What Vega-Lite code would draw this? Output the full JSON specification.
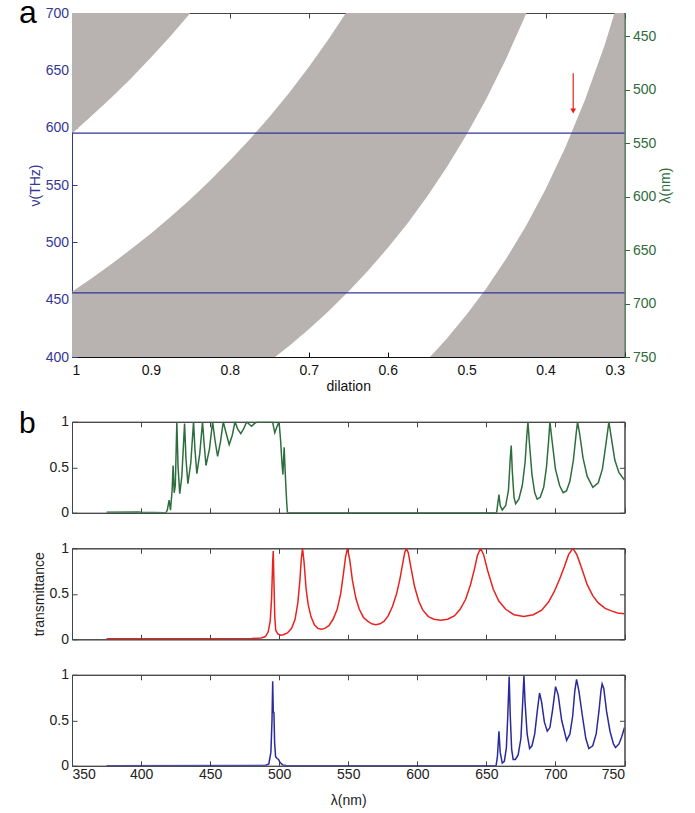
{
  "$schema": "https://vega.github.io/schema/vega-lite/v6.json",
  "padding": {"left": 18, "top": -4, "right": 0, "bottom": 0},
  "config": {
    "font": "Liberation Sans",
    "view": {"stroke": "#444", "strokeWidth": 1},
    "axis": {"labelFontSize": 14, "titleFontSize": 14, "titleFontWeight": "normal", "grid": false, "tickSize": -5, "labelPadding": 8.5, "labelColor": "#222", "titleColor": "#222", "domainColor": "#444", "tickColor": "#444", "labelFont": "Liberation Sans", "titleFont": "Liberation Sans"}
  },
  "datasets": {
    "bands": [
      {"d": 0.300, "a_hi": 728.3, "b_lo": 990.0, "b_hi": 1523.3, "c_lo": 1983.3},
      {"d": 0.325, "a_hi": 672.3, "b_lo": 913.8, "b_hi": 1406.2, "c_lo": 1830.8},
      {"d": 0.350, "a_hi": 624.3, "b_lo": 848.6, "b_hi": 1305.7, "c_lo": 1700.0},
      {"d": 0.375, "a_hi": 582.7, "b_lo": 792.0, "b_hi": 1218.7, "c_lo": 1586.7},
      {"d": 0.400, "a_hi": 546.3, "b_lo": 742.5, "b_hi": 1142.5, "c_lo": 1487.5},
      {"d": 0.425, "a_hi": 514.1, "b_lo": 698.8, "b_hi": 1075.3, "c_lo": 1400.0},
      {"d": 0.450, "a_hi": 485.6, "b_lo": 660.0, "b_hi": 1015.6, "c_lo": 1322.2},
      {"d": 0.475, "a_hi": 460.0, "b_lo": 625.3, "b_hi": 962.1, "c_lo": 1252.6},
      {"d": 0.500, "a_hi": 437.0, "b_lo": 594.0, "b_hi": 914.0, "c_lo": 1190.0},
      {"d": 0.525, "a_hi": 416.2, "b_lo": 565.7, "b_hi": 870.5, "c_lo": 1133.3},
      {"d": 0.550, "a_hi": 397.3, "b_lo": 540.0, "b_hi": 830.9, "c_lo": 1081.8},
      {"d": 0.575, "a_hi": 380.0, "b_lo": 516.5, "b_hi": 794.8, "c_lo": 1034.8},
      {"d": 0.600, "a_hi": 364.2, "b_lo": 495.0, "b_hi": 761.7, "c_lo": 991.7},
      {"d": 0.625, "a_hi": 349.6, "b_lo": 475.2, "b_hi": 731.2, "c_lo": 952.0},
      {"d": 0.650, "a_hi": 336.2, "b_lo": 456.9, "b_hi": 703.1, "c_lo": 915.4},
      {"d": 0.675, "a_hi": 323.7, "b_lo": 440.0, "b_hi": 677.0, "c_lo": 881.5},
      {"d": 0.700, "a_hi": 312.1, "b_lo": 424.3, "b_hi": 652.9, "c_lo": 850.0},
      {"d": 0.725, "a_hi": 301.4, "b_lo": 409.7, "b_hi": 630.3, "c_lo": 820.7},
      {"d": 0.750, "a_hi": 291.3, "b_lo": 396.0, "b_hi": 609.3, "c_lo": 793.3},
      {"d": 0.775, "a_hi": 281.9, "b_lo": 383.2, "b_hi": 589.7, "c_lo": 767.7},
      {"d": 0.800, "a_hi": 273.1, "b_lo": 371.3, "b_hi": 571.3, "c_lo": 743.8},
      {"d": 0.825, "a_hi": 264.8, "b_lo": 360.0, "b_hi": 553.9, "c_lo": 721.2},
      {"d": 0.850, "a_hi": 257.1, "b_lo": 349.4, "b_hi": 537.6, "c_lo": 700.0},
      {"d": 0.875, "a_hi": 249.7, "b_lo": 339.4, "b_hi": 522.3, "c_lo": 680.0},
      {"d": 0.900, "a_hi": 242.8, "b_lo": 330.0, "b_hi": 507.8, "c_lo": 661.1},
      {"d": 0.925, "a_hi": 236.2, "b_lo": 321.1, "b_hi": 494.1, "c_lo": 643.2},
      {"d": 0.950, "a_hi": 230.0, "b_lo": 312.6, "b_hi": 481.1, "c_lo": 626.3},
      {"d": 0.975, "a_hi": 224.1, "b_lo": 304.6, "b_hi": 468.7, "c_lo": 610.3},
      {"d": 1.000, "a_hi": 218.5, "b_lo": 297.0, "b_hi": 457.0, "c_lo": 595.0}
    ],
    "lines": [{"nu": 595.3}, {"nu": 456.0}],
    "arrow": [{"d": 0.365, "nu_top": 647.5, "nu_tip": 614.5}],
    "lamrange": [{"d": 1.0, "lam": 428.3}, {"d": 0.3, "lam": 750}],
    "green": [
      {"wl": 375, "T": 0.005}, {"wl": 398, "T": 0.01}, {"wl": 400, "T": 0.005}, {"wl": 418, "T": 0.0},
      {"wl": 419, "T": 0.03}, {"wl": 420.3, "T": 0.14}, {"wl": 421.3, "T": 0.03}, {"wl": 422.5, "T": 0.25},
      {"wl": 423.2, "T": 0.52}, {"wl": 424, "T": 0.22}, {"wl": 424.8, "T": 0.3}, {"wl": 425.9, "T": 1.0},
      {"wl": 426.8, "T": 0.5}, {"wl": 428, "T": 0.21}, {"wl": 429.5, "T": 0.4}, {"wl": 431.5, "T": 0.98},
      {"wl": 432.5, "T": 0.6}, {"wl": 433.9, "T": 0.32}, {"wl": 436, "T": 0.55}, {"wl": 438, "T": 1.0},
      {"wl": 439, "T": 0.7}, {"wl": 440.4, "T": 0.43}, {"wl": 442.5, "T": 0.65}, {"wl": 444.5, "T": 1.0},
      {"wl": 445.7, "T": 0.75}, {"wl": 447, "T": 0.52}, {"wl": 449.5, "T": 0.7}, {"wl": 451.8, "T": 1.0},
      {"wl": 453.5, "T": 0.8}, {"wl": 455.4, "T": 0.62}, {"wl": 457.5, "T": 0.78}, {"wl": 459.5, "T": 1.0},
      {"wl": 461.5, "T": 0.88}, {"wl": 463.8, "T": 0.75}, {"wl": 466, "T": 0.85}, {"wl": 468, "T": 1.0},
      {"wl": 470, "T": 0.92}, {"wl": 472.2, "T": 0.87}, {"wl": 474.5, "T": 0.93}, {"wl": 476.5, "T": 1.0},
      {"wl": 478.5, "T": 0.97}, {"wl": 480, "T": 0.95}, {"wl": 482, "T": 0.98}, {"wl": 484, "T": 1.0},
      {"wl": 490, "T": 1.0}, {"wl": 495.2, "T": 1.0}, {"wl": 496.8, "T": 0.88}, {"wl": 498.5, "T": 0.95},
      {"wl": 499.9, "T": 1.0}, {"wl": 501, "T": 0.8}, {"wl": 502, "T": 0.55}, {"wl": 502.7, "T": 0.42},
      {"wl": 503.6, "T": 0.72}, {"wl": 504.2, "T": 0.5}, {"wl": 504.8, "T": 0.3}, {"wl": 505.5, "T": 0.1},
      {"wl": 506, "T": 0.0}, {"wl": 520, "T": 0.0}, {"wl": 650, "T": 0.0}, {"wl": 657.4, "T": 0.0},
      {"wl": 659.1, "T": 0.2}, {"wl": 660, "T": 0.08}, {"wl": 661.5, "T": 0.03}, {"wl": 664, "T": 0.08},
      {"wl": 666, "T": 0.25}, {"wl": 667.3, "T": 0.6}, {"wl": 668, "T": 0.74}, {"wl": 668.8, "T": 0.45},
      {"wl": 670, "T": 0.17}, {"wl": 671.2, "T": 0.1}, {"wl": 673.5, "T": 0.15}, {"wl": 676, "T": 0.3},
      {"wl": 678, "T": 0.55}, {"wl": 679.3, "T": 0.85}, {"wl": 680.1, "T": 1.0}, {"wl": 681, "T": 0.8},
      {"wl": 683, "T": 0.42}, {"wl": 685, "T": 0.22}, {"wl": 686.8, "T": 0.15}, {"wl": 689, "T": 0.17},
      {"wl": 691.5, "T": 0.28}, {"wl": 693.5, "T": 0.5}, {"wl": 695, "T": 0.78}, {"wl": 696, "T": 1.0},
      {"wl": 697.5, "T": 0.8}, {"wl": 700, "T": 0.48}, {"wl": 703, "T": 0.3}, {"wl": 705.6, "T": 0.22},
      {"wl": 708, "T": 0.24}, {"wl": 710.5, "T": 0.35}, {"wl": 713, "T": 0.58}, {"wl": 715, "T": 0.87},
      {"wl": 716, "T": 1.0}, {"wl": 717.5, "T": 0.87}, {"wl": 720, "T": 0.6}, {"wl": 723, "T": 0.4},
      {"wl": 727.1, "T": 0.28}, {"wl": 731, "T": 0.33}, {"wl": 734, "T": 0.48}, {"wl": 736.5, "T": 0.75},
      {"wl": 738.7, "T": 1.0}, {"wl": 740.5, "T": 0.82}, {"wl": 743, "T": 0.58}, {"wl": 746, "T": 0.44},
      {"wl": 750, "T": 0.36}
    ],
    "red": [
      {"wl": 375, "T": 0.005}, {"wl": 450, "T": 0.005}, {"wl": 480, "T": 0.008}, {"wl": 487, "T": 0.015},
      {"wl": 490, "T": 0.03}, {"wl": 492, "T": 0.08}, {"wl": 493.5, "T": 0.2}, {"wl": 494.5, "T": 0.45},
      {"wl": 495.3, "T": 0.85}, {"wl": 495.7, "T": 0.97}, {"wl": 496.1, "T": 0.7}, {"wl": 496.8, "T": 0.25},
      {"wl": 497.5, "T": 0.1}, {"wl": 499, "T": 0.06}, {"wl": 501, "T": 0.045}, {"wl": 503, "T": 0.05},
      {"wl": 506, "T": 0.07}, {"wl": 509, "T": 0.12}, {"wl": 511.5, "T": 0.22}, {"wl": 513.5, "T": 0.4},
      {"wl": 515, "T": 0.65}, {"wl": 516, "T": 0.88}, {"wl": 516.9, "T": 1.0}, {"wl": 518, "T": 0.85},
      {"wl": 519.5, "T": 0.55}, {"wl": 521, "T": 0.38}, {"wl": 523, "T": 0.25}, {"wl": 525.5, "T": 0.16},
      {"wl": 528, "T": 0.12}, {"wl": 530.5, "T": 0.11}, {"wl": 533, "T": 0.12}, {"wl": 536, "T": 0.15},
      {"wl": 539, "T": 0.22}, {"wl": 542, "T": 0.33}, {"wl": 544.5, "T": 0.5}, {"wl": 546.5, "T": 0.72},
      {"wl": 548, "T": 0.9}, {"wl": 549.4, "T": 1.0}, {"wl": 551, "T": 0.88}, {"wl": 553, "T": 0.65},
      {"wl": 555.5, "T": 0.45}, {"wl": 558, "T": 0.33}, {"wl": 561, "T": 0.24}, {"wl": 564, "T": 0.2},
      {"wl": 567, "T": 0.17}, {"wl": 570, "T": 0.16}, {"wl": 573, "T": 0.17}, {"wl": 576, "T": 0.2},
      {"wl": 579, "T": 0.26}, {"wl": 582, "T": 0.36}, {"wl": 585, "T": 0.5}, {"wl": 587.5, "T": 0.67},
      {"wl": 589.5, "T": 0.84}, {"wl": 591, "T": 0.96}, {"wl": 592.1, "T": 1.0}, {"wl": 593.5, "T": 0.95},
      {"wl": 595.5, "T": 0.78}, {"wl": 598, "T": 0.58}, {"wl": 601, "T": 0.42}, {"wl": 604, "T": 0.32},
      {"wl": 608, "T": 0.25}, {"wl": 612, "T": 0.22}, {"wl": 617, "T": 0.21}, {"wl": 622, "T": 0.22},
      {"wl": 627, "T": 0.26}, {"wl": 631, "T": 0.33}, {"wl": 635, "T": 0.44}, {"wl": 638.5, "T": 0.6},
      {"wl": 641.5, "T": 0.78}, {"wl": 643.5, "T": 0.92}, {"wl": 645.8, "T": 1.0}, {"wl": 648, "T": 0.93},
      {"wl": 651, "T": 0.75}, {"wl": 655, "T": 0.55}, {"wl": 659, "T": 0.42}, {"wl": 664, "T": 0.33},
      {"wl": 670, "T": 0.27}, {"wl": 677, "T": 0.25}, {"wl": 684, "T": 0.27}, {"wl": 690, "T": 0.32},
      {"wl": 695, "T": 0.41}, {"wl": 699, "T": 0.52}, {"wl": 703, "T": 0.66}, {"wl": 706.5, "T": 0.8},
      {"wl": 709.5, "T": 0.93}, {"wl": 712.6, "T": 1.0}, {"wl": 715.5, "T": 0.93}, {"wl": 719, "T": 0.78},
      {"wl": 723, "T": 0.6}, {"wl": 727, "T": 0.48}, {"wl": 731, "T": 0.4}, {"wl": 736, "T": 0.34},
      {"wl": 741, "T": 0.31}, {"wl": 745, "T": 0.29}, {"wl": 750, "T": 0.28}
    ],
    "blue": [
      {"wl": 375, "T": 0.0}, {"wl": 490, "T": 0.003}, {"wl": 492.5, "T": 0.02}, {"wl": 494, "T": 0.15},
      {"wl": 494.8, "T": 0.5}, {"wl": 495.3, "T": 0.93}, {"wl": 495.7, "T": 0.6}, {"wl": 496.2, "T": 0.58},
      {"wl": 496.7, "T": 0.25}, {"wl": 497.4, "T": 0.1}, {"wl": 498.5, "T": 0.08}, {"wl": 499.5, "T": 0.07},
      {"wl": 500.5, "T": 0.04}, {"wl": 502.4, "T": 0.01}, {"wl": 505, "T": 0.003}, {"wl": 600, "T": 0.0},
      {"wl": 657, "T": 0.0}, {"wl": 658, "T": 0.1}, {"wl": 659.1, "T": 0.38}, {"wl": 660, "T": 0.15},
      {"wl": 661.5, "T": 0.03}, {"wl": 663, "T": 0.05}, {"wl": 664.5, "T": 0.2}, {"wl": 665.5, "T": 0.55},
      {"wl": 666.5, "T": 0.98}, {"wl": 667.3, "T": 0.55}, {"wl": 668.3, "T": 0.18}, {"wl": 669.4, "T": 0.07},
      {"wl": 671, "T": 0.07}, {"wl": 673, "T": 0.12}, {"wl": 675, "T": 0.3}, {"wl": 676.3, "T": 0.7},
      {"wl": 677.2, "T": 0.99}, {"wl": 678, "T": 0.7}, {"wl": 679.5, "T": 0.35}, {"wl": 681.3, "T": 0.19},
      {"wl": 683, "T": 0.22}, {"wl": 685, "T": 0.35}, {"wl": 687, "T": 0.62}, {"wl": 688.5, "T": 0.8},
      {"wl": 690, "T": 0.7}, {"wl": 692, "T": 0.48}, {"wl": 694.1, "T": 0.38}, {"wl": 696, "T": 0.42},
      {"wl": 698, "T": 0.62}, {"wl": 700.1, "T": 0.87}, {"wl": 702, "T": 0.78}, {"wl": 704.5, "T": 0.5},
      {"wl": 708.1, "T": 0.28}, {"wl": 710.5, "T": 0.35}, {"wl": 712.5, "T": 0.55}, {"wl": 714, "T": 0.82},
      {"wl": 715.3, "T": 0.95}, {"wl": 717, "T": 0.82}, {"wl": 719.5, "T": 0.55}, {"wl": 722, "T": 0.3},
      {"wl": 724.2, "T": 0.19}, {"wl": 727, "T": 0.22}, {"wl": 729.5, "T": 0.35}, {"wl": 731.5, "T": 0.6},
      {"wl": 733, "T": 0.83}, {"wl": 733.8, "T": 0.9}, {"wl": 735, "T": 0.85}, {"wl": 737, "T": 0.6},
      {"wl": 739.5, "T": 0.38}, {"wl": 742, "T": 0.24}, {"wl": 743.5, "T": 0.2}, {"wl": 746, "T": 0.24},
      {"wl": 748, "T": 0.32}, {"wl": 750, "T": 0.42}
    ]
  },
  "spacing": 64.8,
  "bounds": "flush",
  "vconcat": [
    {
      "width": 552.5,
      "height": 344,
      "title": {"text": "a", "orient": "top", "anchor": "start", "frame": "group", "fontSize": 32, "fontWeight": "normal", "color": "#000", "dx": -53, "dy": 24.3, "offset": 0},
      "layer": [
        {
          "layer": [
            {
              "data": {"name": "bands"},
              "mark": {"type": "area", "color": "#b8b2b0", "clip": true},
              "encoding": {
                "x": {"field": "d", "type": "quantitative", "scale": {"domain": [0.3, 1], "reverse": true, "nice": false, "zero": false},
                  "axis": {"orient": "bottom", "values": [1, 0.9, 0.8, 0.7, 0.6, 0.5, 0.4, 0.3], "format": "~g", "title": "dilation", "labelColor": "#111", "titleColor": "#111", "domainColor": "#111", "tickColor": "#111", "labelPadding": 11, "titlePadding": 2}},
                "y": {"field": "c_lo", "type": "quantitative", "scale": {"domain": [400, 700], "nice": false, "zero": false},
                  "axis": {"orient": "left", "values": [400, 450, 500, 550, 600, 650, 700], "title": "ν(THz)", "labelColor": "#363696", "titleColor": "#363696", "domainColor": "#363696", "tickColor": "#363696", "labelPadding": 8.5, "titlePadding": 3}},
                "y2": {"datum": 700}
              }
            },
            {
              "data": {"name": "bands"},
              "mark": {"type": "area", "color": "#b8b2b0", "clip": true},
              "encoding": {
                "x": {"field": "d", "type": "quantitative"},
                "y": {"field": "b_lo", "type": "quantitative"},
                "y2": {"field": "b_hi"}
              }
            },
            {
              "data": {"name": "bands"},
              "mark": {"type": "area", "color": "#b8b2b0", "clip": true},
              "encoding": {
                "x": {"field": "d", "type": "quantitative"},
                "y": {"field": "a_hi", "type": "quantitative"},
                "y2": {"datum": 400}
              }
            },
            {
              "data": {"name": "lines"},
              "mark": {"type": "rule", "color": "#33339a", "strokeWidth": 1.3},
              "encoding": {"y": {"field": "nu", "type": "quantitative"}}
            },
            {
              "data": {"name": "arrow"},
              "mark": {"type": "rule", "color": "#e3211c", "strokeWidth": 1.2},
              "encoding": {
                "x": {"field": "d", "type": "quantitative"},
                "y": {"field": "nu_top", "type": "quantitative"},
                "y2": {"field": "nu_tip"}
              }
            },
            {
              "data": {"name": "arrow"},
              "mark": {"type": "point", "shape": "triangle-down", "filled": true, "color": "#e3211c", "size": 34, "opacity": 1},
              "encoding": {
                "x": {"field": "d", "type": "quantitative"},
                "y": {"field": "nu_tip", "type": "quantitative"}
              }
            }
          ]
        },
        {
          "data": {"name": "lamrange"},
          "mark": {"type": "point", "opacity": 0},
          "encoding": {
            "x": {"field": "d", "type": "quantitative", "axis": {"orient": "top", "labels": false, "title": null, "values": [1, 0.9, 0.8, 0.7, 0.6, 0.5, 0.4, 0.3], "domainColor": "#444"}},
            "y": {"field": "lam", "type": "quantitative", "scale": {"domain": [428.3, 750], "reverse": true, "nice": false, "zero": false},
              "axis": {"orient": "right", "values": [450, 500, 550, 600, 650, 700, 750], "title": "λ(nm)", "titleAngle": 270, "titleBaseline": "top", "tickSize": 5, "labelPadding": 3, "titlePadding": 3, "labelColor": "#2f6b3c", "titleColor": "#2f6b3c", "domainColor": "#2f6b3c", "tickColor": "#2f6b3c"}}
          }
        }
      ],
      "resolve": {"scale": {"y": "independent"}, "axis": {"x": "independent"}}
    },
    {
      "spacing": 35.5,
      "bounds": "flush",
      "vconcat": [
        {
          "width": 552.5,
          "height": 91,
          "title": {"text": "b", "orient": "top", "anchor": "start", "frame": "group", "fontSize": 30, "fontWeight": "normal", "color": "#000", "dx": -53, "dy": 24.5, "offset": 0},
          "data": {"name": "green"},
          "layer": [
            {
              "mark": {"type": "line", "color": "#2e6e3e", "strokeWidth": 1.5, "clip": true},
              "encoding": {
                "x": {"field": "wl", "type": "quantitative", "scale": {"domain": [350, 750], "nice": false}, "axis": {"orient": "bottom", "values": [350, 400, 450, 500, 550, 600, 650, 700, 750], "labels": false, "title": null}},
                "y": {"field": "T", "type": "quantitative", "scale": {"domain": [0, 1], "nice": false}, "axis": {"orient": "left", "values": [0, 0.5, 1], "format": "~g", "title": null}}
              }
            },
            {
              "mark": {"type": "line", "strokeOpacity": 0},
              "encoding": {
                "x": {"field": "wl", "type": "quantitative", "axis": {"orient": "top", "values": [350, 400, 450, 500, 550, 600, 650, 700, 750], "labels": false, "title": null}},
                "y": {"field": "T", "type": "quantitative", "axis": {"orient": "right", "values": [0, 0.5, 1], "labels": false, "title": null}}
              }
            }
          ],
          "resolve": {"axis": {"x": "independent", "y": "independent"}}
        },
        {
          "width": 552.5,
          "height": 91,
          "data": {"name": "red"},
          "layer": [
            {
              "mark": {"type": "line", "color": "#e8231f", "strokeWidth": 1.5, "clip": true},
              "encoding": {
                "x": {"field": "wl", "type": "quantitative", "scale": {"domain": [350, 750], "nice": false}, "axis": {"orient": "bottom", "values": [350, 400, 450, 500, 550, 600, 650, 700, 750], "labels": false, "title": null}},
                "y": {"field": "T", "type": "quantitative", "scale": {"domain": [0, 1], "nice": false}, "axis": {"orient": "left", "values": [0, 0.5, 1], "format": "~g", "title": "transmittance", "titlePadding": 3}}
              }
            },
            {
              "mark": {"type": "line", "strokeOpacity": 0},
              "encoding": {
                "x": {"field": "wl", "type": "quantitative", "axis": {"orient": "top", "values": [350, 400, 450, 500, 550, 600, 650, 700, 750], "labels": false, "title": null}},
                "y": {"field": "T", "type": "quantitative", "axis": {"orient": "right", "values": [0, 0.5, 1], "labels": false, "title": null}}
              }
            }
          ],
          "resolve": {"axis": {"x": "independent", "y": "independent"}}
        },
        {
          "width": 552.5,
          "height": 91,
          "data": {"name": "blue"},
          "layer": [
            {
              "mark": {"type": "line", "color": "#2a2a9c", "strokeWidth": 1.5, "clip": true},
              "encoding": {
                "x": {"field": "wl", "type": "quantitative", "scale": {"domain": [350, 750], "nice": false}, "axis": {"orient": "bottom", "values": [350, 400, 450, 500, 550, 600, 650, 700, 750], "title": "λ(nm)", "labelPadding": 7, "titlePadding": 12}},
                "y": {"field": "T", "type": "quantitative", "scale": {"domain": [0, 1], "nice": false}, "axis": {"orient": "left", "values": [0, 0.5, 1], "format": "~g", "title": null}}
              }
            },
            {
              "mark": {"type": "line", "strokeOpacity": 0},
              "encoding": {
                "x": {"field": "wl", "type": "quantitative", "axis": {"orient": "top", "values": [350, 400, 450, 500, 550, 600, 650, 700, 750], "labels": false, "title": null}},
                "y": {"field": "T", "type": "quantitative", "axis": {"orient": "right", "values": [0, 0.5, 1], "labels": false, "title": null}}
              }
            }
          ],
          "resolve": {"axis": {"x": "independent", "y": "independent"}}
        }
      ]
    }
  ]
}
